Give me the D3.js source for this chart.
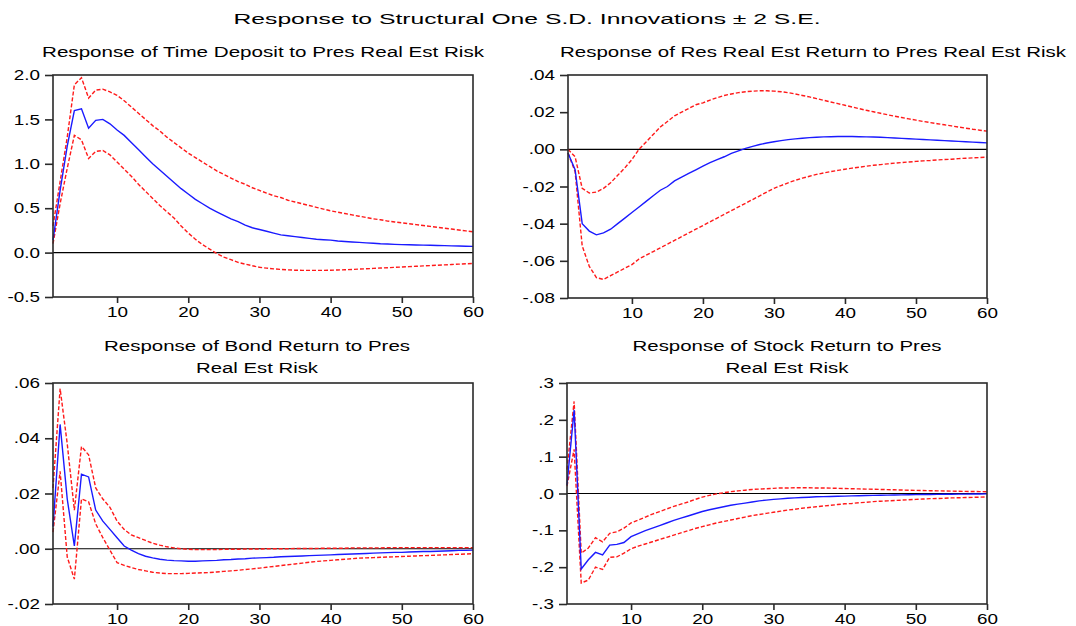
<!DOCTYPE html>
<html>
<head>
<meta charset="utf-8">
<script src="https://cdn.jsdelivr.net/npm/d3@7"></script>
<style>
  body { margin: 0; background: #fff; }
  text { font-family: "Liberation Sans", Arial, sans-serif; fill: #000; }
</style>
</head>
<body>
<svg id="chart" width="1076" height="626"></svg>
<script>
// horizons 1..60 (x axis categories)
const horizons = d3.range(1, 61);
const xTicks = [10, 20, 30, 40, 50, 60];

// Response of Time Deposit
const tdTicks = [2.0, 1.5, 1.0, 0.5, 0.0, -0.5];
const tdLabels = ["2.0", "1.5", "1.0", "0.5", "0.0", "-0.5"];
const tdResp = [0.14, 0.70, 1.20, 1.60, 1.62, 1.40, 1.49, 1.50, 1.45, 1.38,
  1.32, 1.24, 1.16, 1.08, 1.00, 0.93, 0.86, 0.79, 0.72, 0.66,
  0.60, 0.55, 0.50, 0.46, 0.42, 0.38, 0.35, 0.31, 0.28, 0.26,
  0.24, 0.22, 0.20, 0.19, 0.18, 0.17, 0.16, 0.15, 0.145, 0.14,
  0.13, 0.125, 0.12, 0.115, 0.11, 0.105, 0.10, 0.097, 0.093, 0.09,
  0.088, 0.086, 0.084, 0.082, 0.08, 0.078, 0.076, 0.074, 0.072, 0.07];
const tdUpper = [0.30, 0.80, 1.30, 1.89, 1.97, 1.74, 1.83, 1.84, 1.81, 1.77,
  1.71, 1.64, 1.57, 1.50, 1.43, 1.37, 1.30, 1.24, 1.18, 1.12,
  1.07, 1.02, 0.97, 0.92, 0.88, 0.84, 0.80, 0.77, 0.73, 0.70,
  0.67, 0.64, 0.62, 0.59, 0.57, 0.55, 0.53, 0.51, 0.49, 0.47,
  0.455, 0.44, 0.425, 0.41, 0.395, 0.38, 0.37, 0.355, 0.345, 0.335,
  0.325, 0.315, 0.305, 0.295, 0.285, 0.275, 0.265, 0.255, 0.245, 0.235];
const tdLower = [0.10, 0.55, 0.95, 1.32, 1.27, 1.06, 1.14, 1.15, 1.10, 1.02,
  0.94, 0.86, 0.77, 0.69, 0.61, 0.53, 0.46, 0.39, 0.30, 0.22,
  0.15, 0.09, 0.04, -0.01, -0.05, -0.08, -0.11, -0.13, -0.148, -0.165,
  -0.175, -0.183, -0.19, -0.195, -0.198, -0.2, -0.2, -0.2, -0.2, -0.198,
  -0.196, -0.193, -0.19, -0.186, -0.182, -0.178, -0.174, -0.17, -0.166, -0.162,
  -0.158, -0.154, -0.15, -0.146, -0.142, -0.138, -0.134, -0.13, -0.126, -0.122];

// Response of Res Real Est Return
const reTicks = [0.04, 0.02, 0.0, -0.02, -0.04, -0.06, -0.08];
const reLabels = [".04", ".02", ".00", "-.02", "-.04", "-.06", "-.08"];
const reResp = [-0.002, -0.011, -0.040, -0.044, -0.046, -0.045, -0.043, -0.040, -0.037, -0.034,
  -0.031, -0.028, -0.025, -0.022, -0.020, -0.017, -0.015, -0.013, -0.011, -0.009,
  -0.0072, -0.0055, -0.004, -0.0022, -0.0008, 0.0005, 0.0016, 0.0026, 0.0034, 0.0041,
  0.0047, 0.0052, 0.0056, 0.006, 0.0063, 0.0065, 0.0067, 0.0068, 0.0069, 0.0069,
  0.0069, 0.0068, 0.0067, 0.0066, 0.0065, 0.0063, 0.0061, 0.0059, 0.0057, 0.0055,
  0.0053, 0.0051, 0.0049, 0.0047, 0.0045, 0.0043, 0.0041, 0.0039, 0.0037, 0.0035];
const reUpper = [0.0, -0.004, -0.021, -0.0235, -0.023, -0.021, -0.018, -0.014, -0.010, -0.0055,
  0.000, 0.004, 0.008, 0.012, 0.015, 0.018, 0.020, 0.022, 0.024, 0.025,
  0.0265, 0.0278, 0.029, 0.0298, 0.0305, 0.031, 0.0313, 0.0315, 0.0315, 0.0313,
  0.031, 0.0305, 0.0298, 0.029, 0.0282, 0.0273, 0.0264, 0.0255, 0.0246, 0.0237,
  0.0228, 0.0219, 0.021, 0.0202, 0.0194, 0.0186, 0.0178, 0.0171, 0.0164, 0.0157,
  0.015, 0.0144, 0.0138, 0.0132, 0.0126, 0.012, 0.0114, 0.0108, 0.0103, 0.0098];
const reLower = [-0.002, -0.012, -0.052, -0.063, -0.069, -0.070, -0.068, -0.066, -0.064, -0.062,
  -0.059, -0.057, -0.055, -0.053, -0.051, -0.049, -0.047, -0.045, -0.043, -0.041,
  -0.039, -0.037, -0.035, -0.033, -0.031, -0.029, -0.027, -0.025, -0.023, -0.021,
  -0.0195, -0.018, -0.0167, -0.0155, -0.0145, -0.0135, -0.0127, -0.012, -0.0113, -0.0107,
  -0.0101, -0.0096, -0.0091, -0.0086, -0.0082, -0.0078, -0.0074, -0.0071, -0.0068, -0.0065,
  -0.0062, -0.006, -0.0057, -0.0055, -0.0053, -0.005, -0.0048, -0.0046, -0.0044, -0.0042];

// Response of Bond Return
const bdTicks = [0.06, 0.04, 0.02, 0.0, -0.02];
const bdLabels = [".06", ".04", ".02", ".00", "-.02"];
const bdResp = [0.008, 0.045, 0.018, 0.001, 0.027, 0.026, 0.014, 0.010, 0.007, 0.004,
  0.001, -0.0005, -0.0018, -0.0027, -0.0033, -0.0038, -0.0041, -0.0043, -0.0044, -0.0045,
  -0.0045, -0.0044, -0.0043, -0.0042, -0.004, -0.0039, -0.0037, -0.0036, -0.0034, -0.0033,
  -0.0032, -0.0031, -0.0029, -0.0028, -0.0027, -0.0026, -0.0025, -0.0024, -0.0023, -0.0022,
  -0.0021, -0.002, -0.0019, -0.0018, -0.0017, -0.0016, -0.0015, -0.0014, -0.0013, -0.0013,
  -0.0012, -0.0011, -0.001, -0.001, -0.0009, -0.0008, -0.0007, -0.0006, -0.0006, -0.0005];
const bdUpper = [0.022, 0.058, 0.038, 0.014, 0.037, 0.034, 0.022, 0.018, 0.015, 0.010,
  0.007, 0.005, 0.004, 0.003, 0.002, 0.0013, 0.0007, 0.0003, 0.0, -0.0002,
  -0.0003, -0.0003, -0.0003, -0.0003, -0.0002, -0.0002, -0.0002, -0.0001, -0.0001, -0.0001,
  0.0, 0.0, 0.0, 0.0, 0.0001, 0.0001, 0.0001, 0.0001, 0.0002, 0.0002,
  0.0002, 0.0002, 0.0003, 0.0003, 0.0003, 0.0003, 0.0003, 0.0004, 0.0004, 0.0004,
  0.0004, 0.0004, 0.0004, 0.0004, 0.0004, 0.0004, 0.0004, 0.0004, 0.0004, 0.0004];
const bdLower = [0.006, 0.028, -0.003, -0.011, 0.018, 0.017, 0.009, 0.004, -0.0005, -0.005,
  -0.006, -0.0068, -0.0075, -0.008, -0.0085, -0.0088, -0.009, -0.009, -0.009, -0.0089,
  -0.0088, -0.0087, -0.0086, -0.0084, -0.0082, -0.008, -0.0078, -0.0075, -0.0073, -0.007,
  -0.0067, -0.0064, -0.0061, -0.0058, -0.0055, -0.0052, -0.0049, -0.0046, -0.0044, -0.0042,
  -0.004, -0.0038, -0.0036, -0.0034, -0.0033, -0.0032, -0.0031, -0.003, -0.0029, -0.0028,
  -0.0027, -0.0026, -0.0025, -0.0024, -0.0023, -0.0022, -0.0021, -0.002, -0.0019, -0.0018];

// Response of Stock Return
const skTicks = [0.3, 0.2, 0.1, 0.0, -0.1, -0.2, -0.3];
const skLabels = [".3", ".2", ".1", ".0", "-.1", "-.2", "-.3"];
const skResp = [0.023, 0.227, -0.205, -0.18, -0.16, -0.167, -0.14, -0.138, -0.133, -0.117,
  -0.109, -0.101, -0.094, -0.087, -0.080, -0.073, -0.067, -0.061, -0.055, -0.049,
  -0.044, -0.040, -0.036, -0.032, -0.029, -0.026, -0.023, -0.020, -0.018, -0.016,
  -0.0145, -0.013, -0.012, -0.011, -0.010, -0.009, -0.0085, -0.008, -0.0075, -0.007,
  -0.0065, -0.006, -0.0056, -0.0052, -0.0048, -0.0044, -0.004, -0.0037, -0.0034, -0.0031,
  -0.0028, -0.0026, -0.0024, -0.0022, -0.002, -0.0018, -0.0016, -0.0014, -0.0012, -0.001];
const skUpper = [0.065, 0.25, -0.162, -0.148, -0.12, -0.131, -0.108, -0.104, -0.094, -0.08,
  -0.072, -0.064, -0.056, -0.049, -0.042, -0.035, -0.029, -0.023, -0.016, -0.01,
  -0.005, -0.001, 0.002, 0.005, 0.007, 0.009, 0.011, 0.012, 0.013, 0.014,
  0.015, 0.015, 0.0155, 0.0155, 0.0155, 0.015, 0.015, 0.0145, 0.014, 0.0135,
  0.013, 0.0125, 0.012, 0.0115, 0.011, 0.0105, 0.01, 0.0095, 0.009, 0.0085,
  0.008, 0.0076, 0.0072, 0.0068, 0.0064, 0.006, 0.0057, 0.0054, 0.0051, 0.0048];
const skLower = [0.02, 0.12, -0.243, -0.235, -0.2, -0.206, -0.173, -0.172, -0.162, -0.15,
  -0.143, -0.137, -0.131, -0.125, -0.119, -0.113, -0.107, -0.101, -0.095, -0.09,
  -0.085, -0.08, -0.076, -0.072, -0.068, -0.064, -0.06, -0.057, -0.054, -0.051,
  -0.048, -0.045, -0.043, -0.04, -0.038, -0.036, -0.034, -0.032, -0.03, -0.028,
  -0.027, -0.025, -0.024, -0.022, -0.021, -0.02, -0.019, -0.018, -0.017, -0.016,
  -0.015, -0.014, -0.0135, -0.013, -0.012, -0.0115, -0.011, -0.0105, -0.01, -0.0095];

const svg = d3.select("#chart");

// the reference text is drawn wide, so widen each label a bit
function stretch(sel, k) {
  sel.each(function() {
    const w = this.getComputedTextLength();
    d3.select(this).attr("textLength", w * k).attr("lengthAdjust", "spacingAndGlyphs");
  });
}

svg.append("text")
  .attr("x", 527).attr("y", 24)
  .attr("text-anchor", "middle")
  .style("font-size", "15.5px")
  .attr("textLength", 587).attr("lengthAdjust", "spacingAndGlyphs")
  .text("Response to Structural One S.D. Innovations \u00b1 2 S.E.");

const panels = [
  { title: ["Response of Time Deposit to Pres Real Est Risk"], tx: 263, ty: [57], tw: [442],
    box: [53, 75, 473, 297], ticks: tdTicks, labels: tdLabels,
    resp: tdResp, upper: tdUpper, lower: tdLower },
  { title: ["Response of Res Real Est Return to Pres Real Est Risk"], tx: 813, ty: [57], tw: [506],
    box: [568, 75, 987, 298], ticks: reTicks, labels: reLabels,
    resp: reResp, upper: reUpper, lower: reLower },
  { title: ["Response of Bond Return to Pres", "Real Est Risk"], tx: 257, ty: [351, 373], tw: [306, 122],
    box: [53, 383, 473, 604], ticks: bdTicks, labels: bdLabels,
    resp: bdResp, upper: bdUpper, lower: bdLower },
  { title: ["Response of Stock Return to Pres", "Real Est Risk"], tx: 787, ty: [351, 373], tw: [309, 123],
    box: [567, 383, 987, 604], ticks: skTicks, labels: skLabels,
    resp: skResp, upper: skUpper, lower: skLower }
];

panels.forEach(p => {
  const [x0, y0, x1, y1] = p.box;
  const x = d3.scaleLinear().domain([1, 60]).range([x0, x1]);
  const y = d3.scaleLinear().domain([d3.min(p.ticks), d3.max(p.ticks)]).range([y1, y0]);
  const g = svg.append("g");

  // titles
  p.title.forEach((t, i) => {
    g.append("text")
      .attr("x", p.tx).attr("y", p.ty[i])
      .attr("text-anchor", "middle")
      .style("font-size", "15.5px")
      .attr("textLength", p.tw[i]).attr("lengthAdjust", "spacingAndGlyphs")
      .text(t);
  });

  // zero line
  g.append("line")
    .attr("x1", x0).attr("x2", x1)
    .attr("y1", y(0)).attr("y2", y(0))
    .attr("stroke", "#000").attr("stroke-width", 1.1);

  // bands and response
  const line = d3.line().x((d, i) => x(horizons[i])).y(d => y(d));
  [p.upper, p.lower].forEach(band => {
    g.append("path")
      .attr("d", line(band))
      .attr("fill", "none")
      .attr("stroke", "#ff1a1a")
      .attr("stroke-width", 1.4)
      .attr("stroke-dasharray", "4,2");
  });
  g.append("path")
    .attr("d", line(p.resp))
    .attr("fill", "none")
    .attr("stroke", "#1a1aff")
    .attr("stroke-width", 1.4);

  // frame
  g.append("rect")
    .attr("x", x0).attr("y", y0)
    .attr("width", x1 - x0).attr("height", y1 - y0)
    .attr("fill", "none")
    .attr("stroke", "#2a2a2a").attr("stroke-width", 1.6);

  // axes
  const yAxis = g.append("g")
    .attr("transform", `translate(${x0},0)`)
    .call(d3.axisLeft(y).tickValues(p.ticks)
      .tickFormat((d, i) => p.labels[i]).tickSize(8).tickPadding(5));
  const xAxis = g.append("g")
    .attr("transform", `translate(0,${y1})`)
    .call(d3.axisBottom(x).tickValues(xTicks).tickSize(6).tickPadding(4));

  [yAxis, xAxis].forEach(ax => {
    ax.select(".domain").remove();
    ax.selectAll(".tick line").attr("stroke", "#2a2a2a").attr("stroke-width", 1.6);
    ax.selectAll(".tick text")
      .style("font-size", "14.5px")
      .style("font-family", "'Liberation Sans', Arial, sans-serif")
      .attr("fill", "#000");
  });
  stretch(yAxis.selectAll(".tick text"), 1.3);
  stretch(xAxis.selectAll(".tick text"), 1.3);
});
</script>
</body>
</html>
